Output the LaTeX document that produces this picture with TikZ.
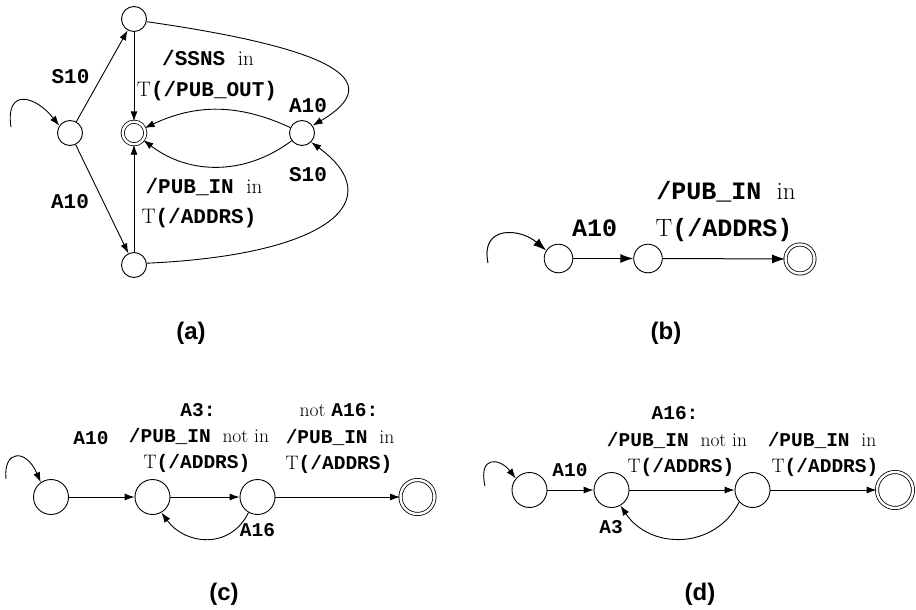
\documentclass[tikz,border=0pt]{standalone}
\usepackage{fontspec}
\newfontfamily\monofam{Liberation Mono}
\newfontfamily\capfam{Liberation Sans}
\usetikzlibrary{arrows.meta}
\newcommand{\cbx}[1]{{\monofam\bfseries #1}}
\begin{document}
\begin{tikzpicture}[x=1pt,y=-1pt,
  st/.style={circle,draw,line width=0.9pt,inner sep=0pt,minimum size=#1},
  fin/.style={circle,draw,double,double distance=2.4pt,line width=0.8pt,inner sep=0pt,minimum size=#1},
  ed/.style={line width=0.9pt,-{Latex[length=10pt,width=7pt]}},
  edb/.style={line width=1pt,-{Latex[length=13pt,width=9pt]}},
  lab/.style={anchor=base,inner sep=0pt},
  fa/.style={lab,font=\fontsize{21}{25}\selectfont},
  fb/.style={lab,font=\fontsize{25}{30}\selectfont},
  fc/.style={lab,font=\fontsize{19.5}{24}\selectfont},
  captxt/.style={inner sep=0pt,font=\capfam\bfseries\fontsize{24}{28}\selectfont}]
\useasboundingbox (0,0) rectangle (916,610);

% ---------- (a) ----------
\node[st=25pt] (aT) at (134,19) {};
\node[st=25pt] (aL) at (70,133) {};
\node[fin=22.6pt] (aF) at (134,133) {};
\node[st=25pt] (aR) at (302,133) {};
\node[st=25pt] (aB) at (134,265) {};
\coordinate (aS) at (11,127);
\draw[ed] (aS) .. controls (5,88) and (35,95) .. (aL.146);
\draw[ed] (aL) -- (aT);
\draw[ed] (aL) -- (aB);
\draw[ed] (aT) -- (aF);
\draw[ed] (aB) -- (aF);
\draw[ed] (aT.-12) .. controls (330,48) and (390,80) .. (aR.35);
\draw[ed] (aB.8) .. controls (330,255) and (390,200) .. (aR.-45);
\draw[ed] (aR) to[bend right=25] (aF);
\draw[ed] (aR) to[bend left=37] (aF);
\node[fa] (aL1) at (70.5,83.3) {\cbx{S10}};
\node[fa] (aL2) at (70,208) {\cbx{A10}};
\node[fa] (aL3) at (208,65.3) {\cbx{/SSNS }in};
\node[fa] (aL4) at (207,96.3) {T\cbx{(/PUB\_OUT)}};
\node[fa] (aL5) at (308,112.3) {\cbx{A10}};
\node[fa] (aL6) at (308,181.3) {\cbx{S10}};
\node[fa] (aL7) at (204,193) {\cbx{/PUB\_IN }in};
\node[fa] (aL8) at (199,223) {T\cbx{(/ADDRS)}};
\node[captxt] (capa) at (191,333) {(a)};

% ---------- (b) ----------
\node[st=28.6pt] (b1) at (558.5,258.5) {};
\node[st=28.6pt] (b2) at (648,258.5) {};
\node[fin=29pt] (bF) at (800,259) {};
\coordinate (bS) at (488,263);
\draw[edb] (bS) .. controls (480,225) and (520,228) .. (b1.147);
\draw[edb] (b1) -- (b2);
\draw[edb] (b2) -- (bF);
\node[fb] (bL1) at (594.5,236.5) {\cbx{A10}};
\node[fb] (bL2) at (726,199.5) {\cbx{/PUB\_IN }in};
\node[fb] (bL3) at (724,236.5) {T\cbx{(/ADDRS)}};
\node[captxt] (capb) at (666,333) {(b)};

% ---------- (c) ----------
\node[st=35pt] (c1) at (51,497) {};
\node[st=35pt] (c2) at (152.5,497) {};
\node[st=35pt] (c3) at (257.5,497) {};
\node[fin=34pt] (cF) at (417.5,497) {};
\coordinate (cS) at (6,479);
\draw[ed] (cS) .. controls (3,450) and (26,448) .. (c1.125);
\draw[ed] (c1) -- (c2);
\draw[ed] (c2) -- (c3);
\draw[ed] (c3) -- (cF);
\draw[ed] (c3.240) .. controls (230,550) and (185,545) .. (c2.300);
\node[fc] (cL1) at (91,444.9) {\cbx{A10}};
\node[fc] (cL2) at (198,416) {\cbx{A3:}};
\node[fc] (cL3) at (199,442) {\cbx{/PUB\_IN }not in};
\node[fc] (cL4) at (197,468.5) {T\cbx{(/ADDRS)}};
\node[fc] (cL5) at (339,416) {not \cbx{A16:}};
\node[fc] (cL6) at (340,443) {\cbx{/PUB\_IN }in};
\node[fc] (cL7) at (339,469) {T\cbx{(/ADDRS)}};
\node[fc] (cL8) at (257.5,536) {\cbx{A16}};
\node[captxt] (capc) at (224,594) {(c)};

% ---------- (d) ----------
\node[st=35pt] (d1) at (529.5,490) {};
\node[st=35pt] (d2) at (611.5,490) {};
\node[st=35pt] (d3) at (752.5,490) {};
\node[fin=36pt] (dF) at (895,490) {};
\coordinate (dS) at (485,486);
\draw[ed] (dS) .. controls (478,455) and (500,458) .. (d1.140);
\draw[ed] (d1) -- (d2);
\draw[ed] (d2) -- (d3);
\draw[ed] (d3) -- (dF);
\draw[ed] (d3.222) .. controls (715,550) and (650,550) .. (d2.300);
\node[fc] (dL1) at (570,476) {\cbx{A10}};
\node[fc] (dL2) at (675,419) {\cbx{A16:}};
\node[fc] (dL3) at (677,446) {\cbx{/PUB\_IN }not in};
\node[fc] (dL4) at (681,472) {T\cbx{(/ADDRS)}};
\node[fc] (dL5) at (822,446) {\cbx{/PUB\_IN }in};
\node[fc] (dL6) at (825,472) {T\cbx{(/ADDRS)}};
\node[fc] (dL7) at (611,533) {\cbx{A3}};
\node[captxt] (capd) at (700,594) {(d)};
\end{tikzpicture}
\end{document}
